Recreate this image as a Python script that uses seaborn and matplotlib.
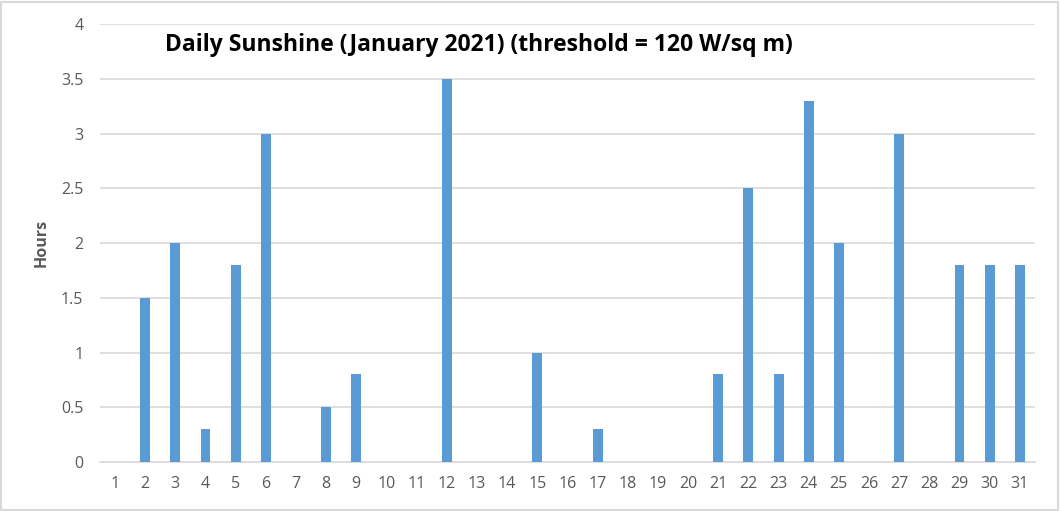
import matplotlib
matplotlib.use("Agg")
import matplotlib.pyplot as plt
import seaborn as sns
import pandas as pd

# -----------------------------
# Data
# -----------------------------
days = [str(d) for d in range(1, 32)]
hours = [0, 1.5, 2, 0.3, 1.8, 3, 0, 0.5, 0.8, 0,
         0, 3.5, 0, 0, 1, 0, 0.3, 0, 0, 0,
         0.8, 2.5, 0.8, 3.3, 2, 0, 3, 0, 1.8, 1.8,
         1.8]
y_ticks = [0, 0.5, 1, 1.5, 2, 2.5, 3, 3.5, 4]
y_tick_labels = ["0", "0.5", "1", "1.5", "2", "2.5", "3", "3.5", "4"]

df = pd.DataFrame({"Day": days, "Hours": hours})

# -----------------------------
# Plot
# -----------------------------
sns.set_style("white")
plt.rcParams["font.family"] = ["Open Sans", "DejaVu Sans"]

fig = plt.figure(figsize=(10.6, 5.11), dpi=100)
ax = fig.add_axes([0.0943, 0.0959, 0.882, 0.857])

sns.barplot(data=df, x="Day", y="Hours", color="#5B9BD5", saturation=1,
            width=0.33, linewidth=0, ax=ax, zorder=3)

ax.set_ylim(0, 4)
ax.set_xlim(-0.5, len(days) - 0.5)
ax.set_yticks(y_ticks)
ax.set_yticklabels(y_tick_labels)
ax.yaxis.grid(True, color="#D9D9D9", linewidth=1.2, zorder=0)
ax.set_axisbelow(True)

for s in ["top", "right", "left"]:
    ax.spines[s].set_visible(False)
ax.spines["bottom"].set_color("#D9D9D9")
ax.spines["bottom"].set_linewidth(1.2)

ax.tick_params(axis="both", length=0, labelsize=11.5, colors="#595959", pad=10)
ax.tick_params(axis="y", pad=12)

ax.set_xlabel("")
ax.set_ylabel("Hours", fontsize=11.5, fontweight="bold", color="#595959", labelpad=8)

fig.text(0.452, 0.912, "Daily Sunshine (January 2021) (threshold = 120 W/sq m)",
         ha="center", va="center", fontsize=16.5, fontweight="bold", color="black")

# outer border
fig.patches.append(plt.Rectangle((0.001, 0.002), 0.997, 0.995, transform=fig.transFigure,
                                 fill=False, edgecolor="#D9D9D9", linewidth=1.5))

fig.savefig("out.png", dpi=100)
